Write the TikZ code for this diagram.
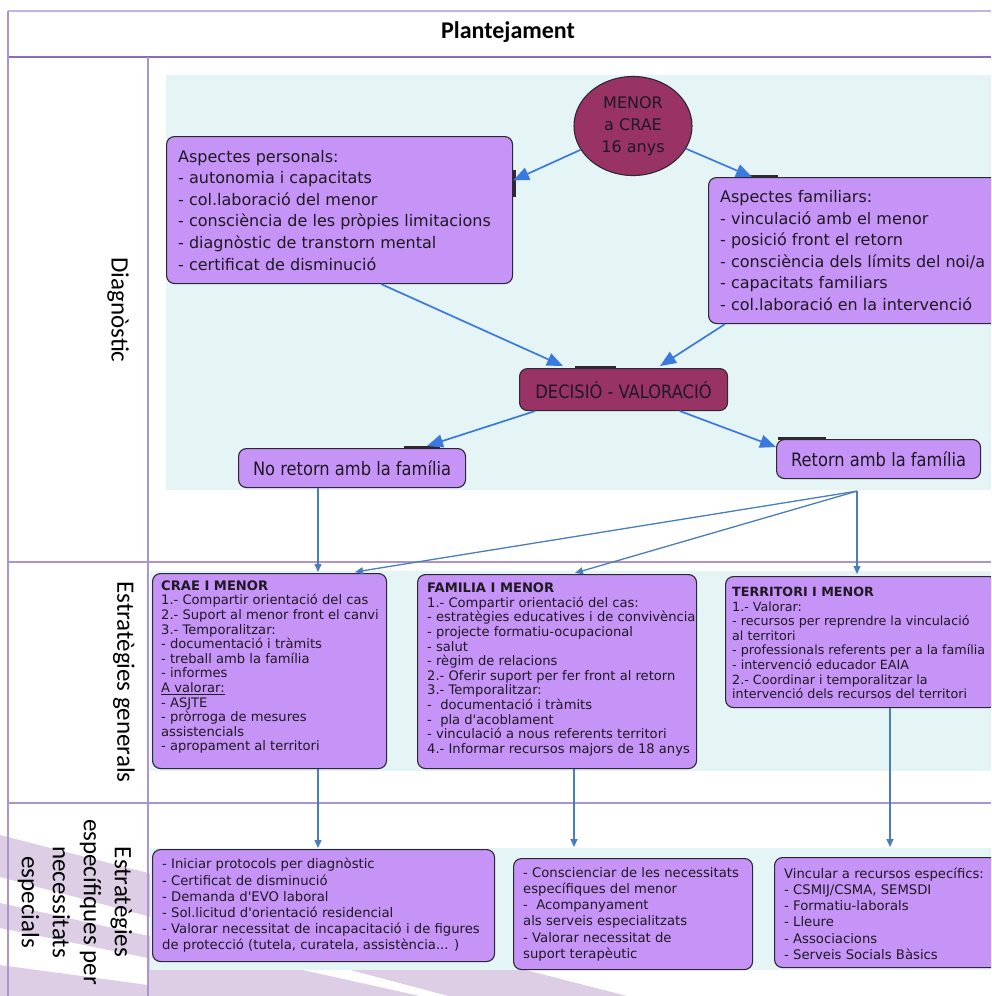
\documentclass[tikz,border=0pt]{standalone}
\usepackage{fontspec}
\newfontfamily\vfont{DejaVu Sans}
\newfontfamily\vcond[FakeStretch=0.88]{DejaVu Sans}
\newfontfamily\cfont{Carlito}
\usetikzlibrary{arrows.meta,calc,shapes.geometric}
\definecolor{boxfill}{RGB}{198,148,246}
\definecolor{maroonc}{RGB}{153,51,102}
\definecolor{bgcyan}{RGB}{229,244,244}
\definecolor{tabline}{RGB}{172,148,206}
\definecolor{tabdark}{RGB}{140,108,182}
\definecolor{arrblue}{RGB}{58,122,222}
\definecolor{steel}{RGB}{74,126,187}
\definecolor{stripe}{RGB}{221,206,230}
\definecolor{edgec}{RGB}{45,40,50}
\definecolor{ink}{RGB}{30,25,35}
\tikzset{
  pbox/.style={draw=edgec, line width=1.1pt, fill=boxfill, rounded corners=8pt, anchor=north west, inner sep=0pt, text=ink},
  mbox/.style={pbox, fill=maroonc},
  txt/.style={anchor=west, align=left, inner sep=0pt, text=ink},
  bigarr/.style={draw=arrblue, line width=1.7pt, -{Triangle[length=16pt,width=13pt]}},
  smallarr/.style={draw=steel, line width=1.3pt, -{Triangle[length=8pt,width=7pt]}},
  tabmark/.style={draw=edgec, line width=3pt},
  tline/.style={draw=tabline, line width=1.4pt},
  lab/.style={rotate=-90, align=center, inner sep=0pt, text=black, font=\cfont\fontsize{25}{31}\selectfont},
  fbig/.style={font=\vfont\fontsize{16}{21.6}\selectfont},
  fmid/.style={font=\vfont\fontsize{13.1}{14.6}\selectfont},
  fter/.style={font=\vfont\fontsize{12.7}{14.6}\selectfont},
  fsml/.style={font=\vfont\fontsize{13.2}{16.2}\selectfont},
  fcond/.style={font=\vcond\fontsize{18.5}{22}\selectfont}
}
\begin{document}
\begin{tikzpicture}[x=1pt,y=-1pt]
\useasboundingbox (0,0) rectangle (991,996);
\clip (0,0) rectangle (991,996);
% decorative stripes
\fill[stripe] (0,835) -- (627,996) -- (991,1090) -- (991,1140) -- (0,877) -- cycle;
\fill[stripe] (0,903) -- (420,996) -- (148,996) -- (148,958) -- (0,928) -- cycle;
\fill[stripe] (0,965) -- (148,985) -- (148,996) -- (0,996) -- cycle;
% backgrounds
\fill[bgcyan] (166,75) rectangle (991,490);
\fill[bgcyan] (150,571) rectangle (991,771);
\fill[bgcyan] (150,848) rectangle (991,970);
% table
\draw[draw=tabline!70, line width=1.6pt] (8,11) -- (991,11);
\draw[draw=tabdark, line width=2.4pt] (8,57) -- (991,57);
\draw[tline] (8,11) -- (8,996);
\draw[tline] (148,57) -- (148,996);
\draw[tline] (8,562) -- (991,562);
\draw[tline] (8,803) -- (991,803);
\node[font=\cfont\bfseries\fontsize{24}{28}\selectfont, inner sep=0pt] (title) at (508,32) {Plantejament};
\node[lab] (l1) at (118,310) {Diagnòstic};
\node[lab] (l2) at (124,682) {Estratègies generals};
\node[lab] (l3) at (75,902) {Estratègies\\específiques per\\necessitats\\especials};
% diagnostic nodes
\node[ellipse, draw=edgec, fill=maroonc, line width=1.1pt, minimum width=118, minimum height=99, inner sep=0pt, align=center, text=ink, font=\vfont\fontsize{16}{22}\selectfont] (menor) at (633,126) {MENOR\\a CRAE\\16 anys};
\node[pbox, minimum width=346, minimum height=147] (ap) at (166,136) {};
\node[txt, fbig] (apt) at ($(ap.west)+(12,0)$) {Aspectes personals:\\- autonomia i capacitats\\- col.laboració del menor\\- consciència de les pròpies limitacions\\- diagnòstic de transtorn mental\\- certificat de disminució};
\node[pbox, minimum width=290, minimum height=146] (af) at (708,177) {};
\node[txt, fbig] (aft) at ($(af.west)+(12,0)$) {Aspectes familiars:\\- vinculació amb el menor\\- posició front el retorn\\- consciència dels límits del noi/a\\- capacitats familiars\\- col.laboració en la intervenció};
\node[mbox, minimum width=208, minimum height=42, fcond] (dec) at (519,368) {DECISIÓ - VALORACIÓ};
\node[pbox, minimum width=227, minimum height=39, fcond] (noret) at (238,448) {No retorn amb la família};
\node[pbox, minimum width=204, minimum height=39, fcond] (ret) at (776,439) {Retorn amb la família};
% tabs
\draw[tabmark] ($(dec.north west)+(56,-1)$) -- ($(dec.north west)+(97,-1)$);
\draw[tabmark] ($(noret.north west)+(166,-1)$) -- ($(noret.north west)+(202,-1)$);
\draw[tabmark] ($(ret.north west)+(2,-1)$) -- ($(ret.north west)+(50,-1)$);
\draw[tabmark] ($(af.north west)+(28,-1)$) -- ($(af.north west)+(70,-1)$);
\draw[tabmark] ($(ap.north east)+(1,34)$) -- ($(ap.north east)+(1,61)$);
% strategies generals
\node[pbox, minimum width=234, minimum height=195] (crae) at (152,573) {};
\node[txt, fmid] (craet) at ($(crae.west)+(9,-4)$) {{\bfseries CRAE I MENOR}\\1.- Compartir orientació del cas\\2.- Suport al menor front el canvi\\3.- Temporalitzar:\\- documentació i tràmits\\- treball amb la família\\- informes\\\underline{A valorar:}\\- ASJTE\\- pròrroga de mesures\\assistencials\\- apropament al territori};
\node[pbox, minimum width=279, minimum height=194] (fam) at (417,574) {};
\node[txt, fmid] (famt) at ($(fam.west)+(10,-2)$) {{\bfseries FAMILIA I MENOR}\\1.- Compartir orientació del cas:\\- estratègies educatives i de convivència\\- projecte formatiu-ocupacional\\- salut\\- règim de relacions\\2.- Oferir suport per fer front al retorn\\3.- Temporalitzar:\\-\ \ documentació i tràmits\\-\ \ pla d'acoblament\\- vinculació a nous referents territori\\4.- Informar recursos majors de 18 anys};
\node[pbox, minimum width=272, minimum height=131] (terr) at (725,576) {};
\node[txt, fter] (terrt) at ($(terr.west)+(7,1)$) {{\bfseries TERRITORI I MENOR}\\1.- Valorar:\\- recursos per reprendre la vinculació\\al territori\\- professionals referents per a la família\\- intervenció educador EAIA\\2.- Coordinar i temporalitzar la\\intervenció dels recursos del territori};
% specific strategies
\node[pbox, minimum width=342, minimum height=112] (b1) at (152,849) {};
\node[txt, fsml] (b1t) at ($(b1.west)+(10,0)$) {- Iniciar protocols per diagnòstic\\- Certificat de disminució\\- Demanda d'EVO laboral\\- Sol.licitud d'orientació residencial\\- Valorar necessitat de incapacitació i de figures\\de protecció (tutela, curatela, assistència... )};
\node[pbox, minimum width=239, minimum height=111] (b2) at (513,858) {};
\node[txt, fsml] (b2t) at ($(b2.west)+(10,0)$) {- Conscienciar de les necessitats\\específiques del menor\\-\ \ Acompanyament\\als serveis especialitzats\\- Valorar necessitat de\\suport terapèutic};
\node[pbox, minimum width=225, minimum height=110] (b3) at (774,857) {};
\node[txt, fsml] (b3t) at ($(b3.west)+(10,1)$) {Vincular a recursos específics:\\- CSMIJ/CSMA, SEMSDI\\- Formatiu-laborals\\- Lleure\\- Associacions\\- Serveis Socials Bàsics};
% connectors
\draw[bigarr] (menor) -- ($(ap.north east)!0.3!(ap.south east)$);
\draw[bigarr] (menor) -- ($(af.north west)+(44,0)$);
\draw[bigarr] ($(ap.south west)!0.62!(ap.south east)$) -- ($(dec.north west)+(44,-2)$);
\draw[bigarr] ($(af.south west)+(17,0)$) -- ($(dec.north west)+(141,-2)$);
\draw[bigarr] ($(dec.south west)+(16,0)$) -- ($(noret.north west)+(189,-2)$);
\draw[bigarr] ($(dec.south west)+(161,0)$) -- ($(ret.north west)!0.2!(ret.south west)$);
\coordinate (hub) at ($(ret.south west)+(81,12)$);
\draw[smallarr] ($(noret.south west)+(80,0)$) -- ($(crae.north west)+(166,-1)$);
\draw[smallarr] (hub) -- ($(crae.north west)+(203,-1)$);
\draw[smallarr] (hub) -- ($(fam.north west)+(158,-1)$);
\draw[smallarr] (hub) -- ($(terr.north west)+(132,-2)$);
\draw[smallarr] ($(crae.south west)+(166,0)$) -- ($(b1.north west)+(166,-1)$);
\draw[smallarr] ($(fam.south west)+(157,0)$) -- ($(b2.north west)+(61,-11)$);
\draw[smallarr] ($(terr.south west)+(165,0)$) -- ($(b3.north west)+(116,-10)$);
\end{tikzpicture}
\end{document}
